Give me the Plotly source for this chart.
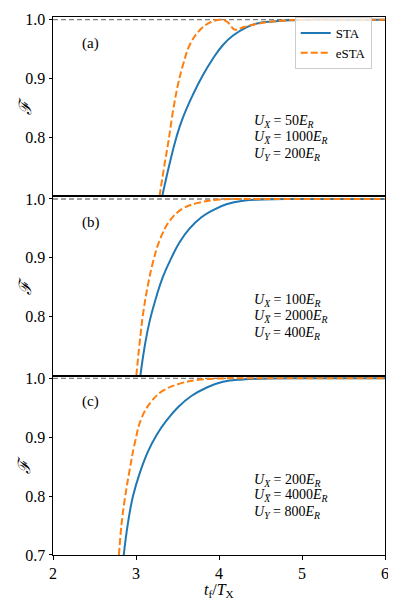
import plotly.graph_objects as go
from plotly.subplots import make_subplots

# panel (a): U_X = 50 E_R
sta_a_t = [3.316, 3.406, 3.486, 3.566, 3.687, 3.807, 3.928, 4.048, 4.169, 4.33, 4.47, 4.65, 4.85, 5.1, 5.5, 6.0]
sta_a_f = [0.700, 0.756, 0.800, 0.834, 0.873, 0.906, 0.934, 0.957, 0.973, 0.987, 0.994, 0.997, 0.999, 1.0, 1.0, 1.0]
esta_a_t = [3.283, 3.346, 3.386, 3.446, 3.506, 3.566, 3.647, 3.767, 3.888, 3.97, 4.048, 4.11, 4.19,
            4.29, 4.40, 4.55, 4.75, 5.0, 5.5, 6.0]
esta_a_f = [0.700, 0.756, 0.789, 0.845, 0.890, 0.923, 0.957, 0.982, 0.995, 0.999, 1.0, 0.995, 0.983,
            0.987, 0.991, 0.995, 0.998, 0.9995, 1.0, 1.0]

# panel (b): U_X = 100 E_R
sta_b_t = [3.053, 3.105, 3.165, 3.245, 3.325, 3.426, 3.527, 3.647, 3.788, 3.928, 4.089, 4.29, 4.53, 4.8, 5.2, 6.0]
sta_b_f = [0.700, 0.750, 0.793, 0.834, 0.868, 0.900, 0.927, 0.950, 0.969, 0.981, 0.991, 0.997, 0.999, 1.0, 1.0, 1.0]
esta_b_t = [3.004, 3.045, 3.085, 3.145, 3.205, 3.285, 3.406, 3.566, 3.767, 4.008, 4.3, 4.8, 6.0]
esta_b_f = [0.700, 0.757, 0.805, 0.855, 0.893, 0.930, 0.963, 0.984, 0.994, 0.999, 1.0, 1.0, 1.0]

# panel (c): U_X = 200 E_R
sta_c_t = [2.852, 2.904, 2.964, 3.045, 3.145, 3.245, 3.366, 3.506, 3.667, 3.848, 4.048, 4.29, 4.6, 5.0, 6.0]
sta_c_f = [0.700, 0.755, 0.800, 0.839, 0.876, 0.903, 0.928, 0.951, 0.970, 0.984, 0.994, 0.998, 0.9995, 1.0, 1.0]
esta_c_t = [2.795, 2.824, 2.864, 2.924, 2.984, 3.065, 3.186, 3.325, 3.527, 3.727, 3.968, 4.3, 5.0, 6.0]
esta_c_f = [0.700, 0.750, 0.794, 0.845, 0.889, 0.932, 0.961, 0.979, 0.991, 0.997, 0.9995, 1.0, 1.0, 1.0]

panel_labels = ["(a)", "(b)", "(c)"]
u_x = [50, 100, 200]
u_xbar = [1000, 2000, 4000]
u_y = [200, 400, 800]

x_ticks = [2, 3, 4, 5, 6]

FONT = "Liberation Serif, DejaVu Serif, serif"
BLUE = "#1f77b4"
ORANGE = "#ff7f0e"

fig = make_subplots(rows=3, cols=1, shared_xaxes=True, vertical_spacing=0)

panels = [(sta_a_t, sta_a_f, esta_a_t, esta_a_f),
          (sta_b_t, sta_b_f, esta_b_t, esta_b_f),
          (sta_c_t, sta_c_f, esta_c_t, esta_c_f)]

for i, (st, sf, et, ef) in enumerate(panels):
    row = i + 1
    # reference line at F = 1
    fig.add_trace(go.Scatter(x=[x_ticks[0], x_ticks[-1]], y=[1.0, 1.0], mode="lines",
                             line=dict(color="#808080", width=1.3, dash="5px,3px"),
                             showlegend=False, hoverinfo="skip"), row=row, col=1)
    fig.add_trace(go.Scatter(x=st, y=sf, mode="lines", name="STA",
                             line=dict(color=BLUE, width=2, shape="spline", smoothing=1.3),
                             showlegend=(i == 0)), row=row, col=1)
    fig.add_trace(go.Scatter(x=et, y=ef, mode="lines", name="eSTA",
                             line=dict(color=ORANGE, width=2, dash="7px,3px",
                                       shape="spline", smoothing=1.1),
                             showlegend=(i == 0)), row=row, col=1)

    yvals = [0.8, 0.9, 1.0] if row < 3 else [0.7, 0.8, 0.9, 1.0]
    fig.update_yaxes(range=[0.7, 1.0045], tickvals=yvals, ticktext=[f"{v:.1f}" for v in yvals],
                     ticks="outside", ticklen=3.5, tickwidth=1, tickcolor="black",
                     tickfont=dict(family=FONT, size=16),
                     showline=True, mirror=True, linecolor="black", linewidth=1,
                     showgrid=False, zeroline=False, row=row, col=1)
    fig.update_xaxes(range=[2, 6], tickvals=x_ticks, showline=True, mirror=True,
                     linecolor="black", linewidth=1, showgrid=False, zeroline=False,
                     ticks="outside" if row == 3 else "", ticklen=3.5, tickcolor="black",
                     tickfont=dict(family=FONT, size=16),
                     showticklabels=(row == 3), row=row, col=1)

    xd = "x domain" if row == 1 else f"x{row} domain"
    yd = "y domain" if row == 1 else f"y{row} domain"
    fig.add_annotation(text=panel_labels[i], xref=xd, yref=yd, x=0.08, y=0.912,
                       showarrow=False, font=dict(size=15, family=FONT, color="black"))
    lines = [f"<i>U</i><sub><i>X</i></sub> = {u_x[i]}<i>E</i><sub><i>R</i></sub>",
             f"<i>U</i><sub><i>X\u0305</i></sub> = {u_xbar[i]}<i>E</i><sub><i>R</i></sub>",
             f"<i>U</i><sub><i>Y</i></sub> = {u_y[i]}<i>E</i><sub><i>R</i></sub>"]
    for text, yy in zip(lines, [0.418, 0.330, 0.236]):
        fig.add_annotation(text=text, xref=xd, yref=yd, x=0.598, y=yy, xanchor="left",
                           yanchor="middle", showarrow=False,
                           font=dict(size=14, family=FONT, color="black"))
    # y label
    fig.add_annotation(text="<i>\u2131</i>", xref="paper", yref=yd, x=-0.121, y=0.5,
                       textangle=-90, showarrow=False,
                       font=dict(size=17, family="DejaVu Serif, serif", color="black"))

fig.add_annotation(text="<i>t</i><sub>f</sub>/<i>T</i><sub>X</sub>", xref="paper", yref="paper",
                   x=0.5, y=-0.066, yanchor="middle", showarrow=False,
                   font=dict(size=16, family=FONT, color="black"))

# the page body adds 8px around the figure, so the figure is 8px smaller
fig.update_layout(
    width=388, height=598,
    margin=dict(l=45, r=11, t=3, b=51),
    plot_bgcolor="white", paper_bgcolor="white",
    font=dict(family=FONT, size=16, color="black"),
    legend=dict(x=0.96, y=1.0, xanchor="right", yanchor="top",
                bgcolor="rgba(255,255,255,0.8)", bordercolor="#cccccc", borderwidth=1,
                font=dict(size=13, family=FONT), itemwidth=30, tracegroupgap=0),
)

fig.write_html("out.html")
